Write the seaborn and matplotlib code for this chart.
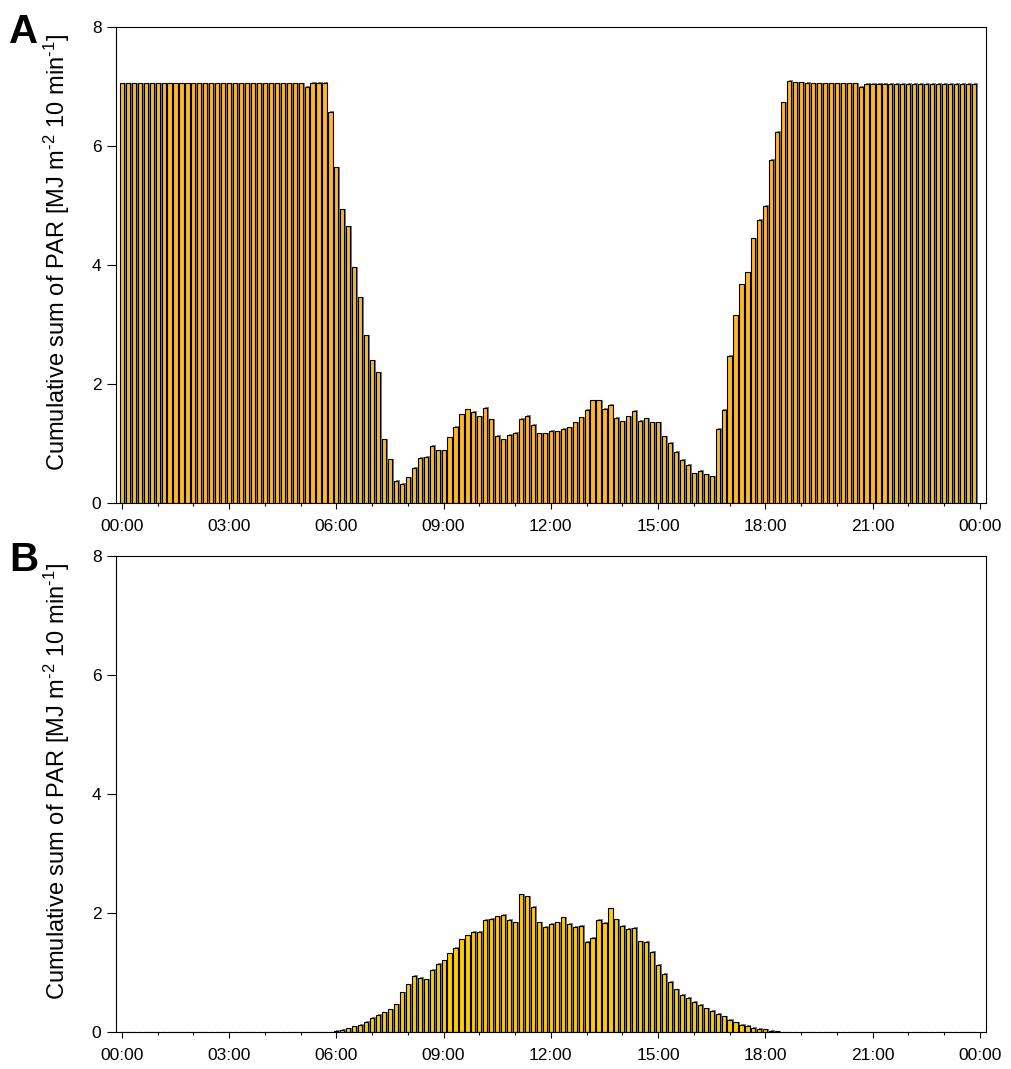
import matplotlib
matplotlib.use("Agg")
import matplotlib.pyplot as plt
import matplotlib.patheffects as pe
from matplotlib.ticker import MultipleLocator
import numpy as np
import pandas as pd
import seaborn as sns

# 10-minute slots over one day (slot 0 = 00:00, slot 143 = 23:50)
slots = list(range(144))

# Panel A: cumulative PAR per 10-min interval [MJ m-2 10 min-1], one row per hour
par_a = [
    7.05, 7.05, 7.05, 7.05, 7.05, 7.05,   # 00
    7.05, 7.05, 7.05, 7.05, 7.05, 7.05,   # 01
    7.05, 7.05, 7.05, 7.05, 7.05, 7.05,   # 02
    7.05, 7.05, 7.05, 7.05, 7.05, 7.05,   # 03
    7.05, 7.05, 7.05, 7.05, 7.05, 7.05,   # 04
    7.05, 6.99, 7.06, 7.06, 7.06, 6.57,   # 05
    5.64, 4.94, 4.65, 3.96, 3.46, 2.82,   # 06
    2.40, 2.20, 1.08, 0.74, 0.38, 0.33,   # 07
    0.44, 0.60, 0.77, 0.78, 0.97, 0.89,   # 08
    0.89, 1.11, 1.29, 1.50, 1.58, 1.54,   # 09
    1.46, 1.61, 1.41, 1.14, 1.08, 1.15,   # 10
    1.19, 1.42, 1.47, 1.32, 1.18, 1.18,   # 11
    1.22, 1.21, 1.25, 1.28, 1.36, 1.45,   # 12
    1.57, 1.73, 1.73, 1.59, 1.66, 1.44,   # 13
    1.38, 1.46, 1.56, 1.39, 1.43, 1.36,   # 14
    1.36, 1.13, 1.02, 0.87, 0.73, 0.65,   # 15
    0.51, 0.55, 0.49, 0.46, 1.25, 1.57,   # 16
    2.48, 3.16, 3.68, 3.88, 4.45, 4.76,   # 17
    5.00, 5.77, 6.24, 6.73, 7.09, 7.07,   # 18
    7.07, 7.06, 7.05, 7.05, 7.05, 7.05,   # 19
    7.05, 7.05, 7.05, 7.05, 6.99, 7.04,   # 20
    7.04, 7.04, 7.04, 7.04, 7.04, 7.04,   # 21
    7.04, 7.04, 7.04, 7.04, 7.04, 7.04,   # 22
    7.04, 7.04, 7.04, 7.04, 7.04, 7.04,   # 23
]

# Panel B: cumulative PAR per 10-min interval [MJ m-2 10 min-1], one row per hour
par_b = [
    0, 0, 0, 0, 0, 0,                     # 00
    0, 0, 0, 0, 0, 0,                     # 01
    0, 0, 0, 0, 0, 0,                     # 02
    0, 0, 0, 0, 0, 0,                     # 03
    0, 0, 0, 0, 0, 0,                     # 04
    0, 0, 0, 0, 0, 0,                     # 05
    0.03, 0.045, 0.07, 0.10, 0.13, 0.18,  # 06
    0.24, 0.29, 0.34, 0.39, 0.47, 0.67,   # 07
    0.81, 0.95, 0.92, 0.89, 1.05, 1.15,   # 08
    1.21, 1.33, 1.42, 1.56, 1.63, 1.69,   # 09
    1.69, 1.89, 1.91, 1.95, 1.97, 1.89,   # 10
    1.85, 2.32, 2.28, 2.11, 1.85, 1.77,   # 11
    1.82, 1.85, 1.93, 1.82, 1.77, 1.79,   # 12
    1.52, 1.59, 1.89, 1.84, 2.08, 1.90,   # 13
    1.79, 1.74, 1.75, 1.53, 1.52, 1.35,   # 14
    1.13, 0.98, 0.85, 0.72, 0.63, 0.58,   # 15
    0.51, 0.46, 0.40, 0.36, 0.31, 0.27,   # 16
    0.21, 0.17, 0.13, 0.11, 0.08, 0.06,   # 17
    0.05, 0.03, 0.02, 0, 0, 0,            # 18
    0, 0, 0, 0, 0, 0,                     # 19
    0, 0, 0, 0, 0, 0,                     # 20
    0, 0, 0, 0, 0, 0,                     # 21
    0, 0, 0, 0, 0, 0,                     # 22
    0, 0, 0, 0, 0, 0,                     # 23
]

tick_labels = ["00:00", "03:00", "06:00", "09:00", "12:00",
               "15:00", "18:00", "21:00", "00:00"]
panel_labels = ["A", "B"]
bar_colors = ["#FDB827", "#FFCC00"]

sns.set_theme(style="ticks")
plt.rcParams["font.family"] = ["Liberation Sans", "DejaVu Sans"]
plt.rcParams.update({
    "text.color": "black",
    "axes.labelcolor": "black",
    "xtick.color": "black",
    "ytick.color": "black",
    "mathtext.fontset": "custom",
    "mathtext.rm": "Liberation Sans",
    "mathtext.it": "Liberation Sans:italic",
    "mathtext.bf": "Liberation Sans:bold",
})

fig = plt.figure(figsize=(10.11, 10.69), dpi=100)
ax_a = fig.add_axes([0.1147, 0.529, 0.8603, 0.446])
ax_b = fig.add_axes([0.1147, 0.0343, 0.8603, 0.446])

ylabel = r"Cumulative sum of PAR [MJ m$^{\text{-2}}$ 10 min$^{\text{-1}}$]"
shadow = [pe.SimplePatchShadow(offset=(1.4, 0.4), shadow_rgbFace="#7d7d7d", alpha=1.0),
          pe.Normal()]
label_tops = [0.988, 0.494]

for ax, values, color, label, ytop in zip((ax_a, ax_b), (par_a, par_b), bar_colors,
                                          panel_labels, label_tops):
    df = pd.DataFrame({"slot": slots, "par": values})
    sns.barplot(data=df, x="slot", y="par", order=slots, color=color,
                saturation=1, width=0.7, edgecolor="black", linewidth=0.8,
                errorbar=None, ax=ax)
    for patch in ax.patches:
        patch.set_path_effects(shadow)

    ax.set_xlim(-1, 145)
    ax.set_ylim(0, 8)
    ax.set_xticks(range(0, 145, 18))
    ax.set_xticklabels(tick_labels)
    ax.xaxis.set_minor_locator(MultipleLocator(6))
    ax.set_yticks([0, 2, 4, 6, 8])
    ax.set_xlabel("")
    ax.set_ylabel(ylabel, fontsize=17)
    ax.yaxis.set_label_coords(-0.05, 0.527)

    ax.tick_params(axis="x", which="major", length=4.5, width=0.8,
                   labelsize=12.5, pad=7, color="black")
    ax.tick_params(axis="x", which="minor", length=2.5, width=0.8, color="black")
    ax.tick_params(axis="y", which="major", length=6.5, width=0.8,
                   labelsize=12.5, pad=4, color="black")

    for side in ("left", "right", "top", "bottom"):
        ax.spines[side].set_visible(True)
        ax.spines[side].set_linewidth(0.8)
        ax.spines[side].set_color("black")

    fig.text(0.009, ytop, label, fontsize=29, fontweight="bold",
             ha="left", va="top", color="black")

fig.savefig("out.png", dpi=100)
